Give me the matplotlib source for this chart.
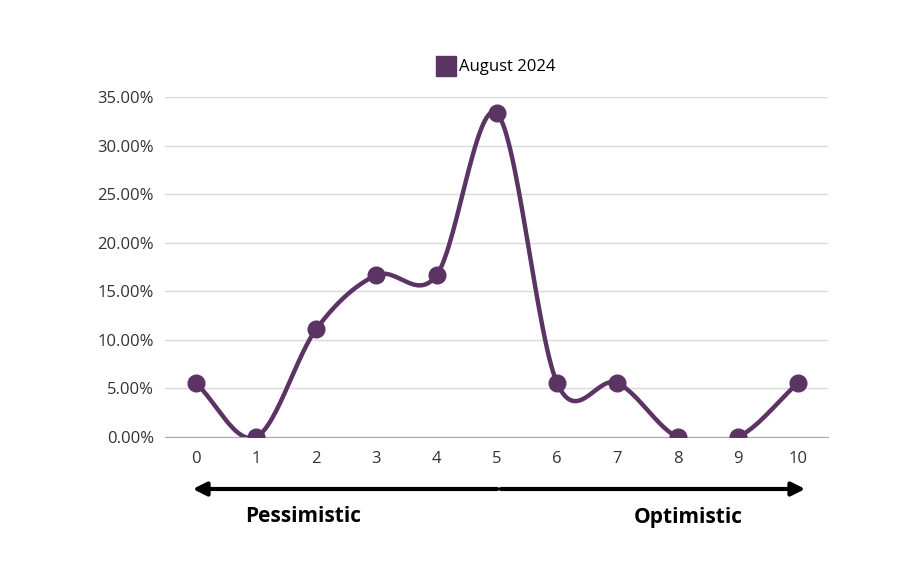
import matplotlib
matplotlib.use("Agg")
import matplotlib.pyplot as plt
import numpy as np

x_vals = [0, 1, 2, 3, 4, 5, 6, 7, 8, 9, 10]
y_vals = [5.56, 0.0, 11.11, 16.67, 16.67, 33.33, 5.56, 5.56, 0.0, 0.0, 5.56]
series_name = "August 2024"
color = "#5b3463"

plt.rcParams['font.family'] = ['Open Sans', 'DejaVu Sans']
fig = plt.figure(figsize=(9.12, 5.75), dpi=100)
ax = fig.add_axes([0.181, 0.240, 0.727, 0.591])

# Catmull-Rom smoothing of the drawn line
def catmull(xs, ys, n=30):
    xs = np.asarray(xs, float); ys = np.asarray(ys, float)
    px = np.concatenate([[2*xs[0]-xs[1]], xs, [2*xs[-1]-xs[-2]]])
    py = np.concatenate([[2*ys[0]-ys[1]], ys, [2*ys[-1]-ys[-2]]])
    ox, oy = [], []
    for i in range(1, len(px)-2):
        t = np.linspace(0, 1, n, endpoint=False)
        for p, out in ((px, ox), (py, oy)):
            p0, p1, p2, p3 = p[i-1], p[i], p[i+1], p[i+2]
            out.extend(0.5*((2*p1) + (-p0+p2)*t + (2*p0-5*p1+4*p2-p3)*t**2 + (-p0+3*p1-3*p2+p3)*t**3))
    ox.append(xs[-1]); oy.append(ys[-1])
    return ox, oy

sx, sy = catmull(x_vals, y_vals)
ax.plot(sx, sy, color=color, lw=3.2, solid_capstyle='round', zorder=3)
ax.plot(x_vals, y_vals, 'o', color=color, ms=12, zorder=4)
ax.plot([], [], 's', color=color, ms=14, label=series_name)

ax.set_xlim(-0.51, 10.5)
ax.set_ylim(0, 35)
ax.set_yticks(np.arange(0, 36, 5))
ax.set_yticklabels([f"{v:.2f}%" for v in np.arange(0, 36, 5)])
ax.set_xticks(x_vals)
ax.grid(axis='y', color='#d9d9d9', lw=1)
ax.set_axisbelow(True)
for s in ['top', 'right', 'left']:
    ax.spines[s].set_visible(False)
ax.spines['bottom'].set_color('#aaaaaa')
ax.tick_params(axis='both', length=0, labelsize=12, colors='#333333', pad=8)
ax.tick_params(axis='x', pad=10)

ax.legend(loc='lower center', bbox_to_anchor=(0.5, 1.02), frameon=False, fontsize=12,
          handletextpad=0.3, handlelength=1)

# arrows
ay = 1 - 489/575
fig.patches  # noqa
ax2 = fig.add_axes([0, 0, 1, 1], facecolor='none')
ax2.set_xlim(0, 912); ax2.set_ylim(575, 0); ax2.axis('off')
ax2.annotate('', xy=(190, 489), xytext=(500, 489),
             arrowprops=dict(arrowstyle='-|>,head_width=0.4,head_length=0.8', color='black', lw=3))
ax2.annotate('', xy=(808, 489), xytext=(498, 489),
             arrowprops=dict(arrowstyle='-|>,head_width=0.4,head_length=0.8', color='black', lw=3))
ax2.text(303, 517, 'Pessimistic', ha='center', va='center', fontsize=15, fontweight='bold')
ax2.text(688, 517, 'Optimistic', ha='center', va='center', fontsize=15, fontweight='bold')

fig.savefig("out.png", dpi=100)
